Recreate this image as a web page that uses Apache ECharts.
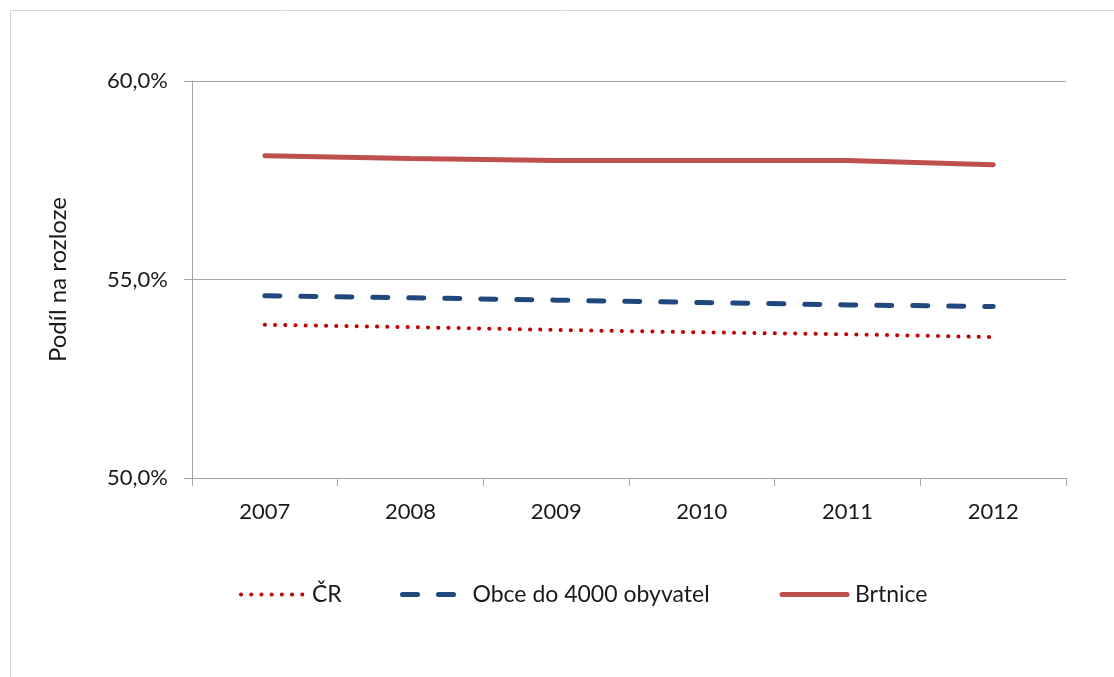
<!DOCTYPE html>
<html><head><meta charset="utf-8">
<script src="https://cdn.jsdelivr.net/npm/echarts@6/dist/echarts.min.js"></script>
<style>html,body{margin:0;padding:0;background:#fff}#c{width:1114px;height:677px}</style>
</head><body><div id="c"></div>
<script>
const categories = ['2007','2008','2009','2010','2011','2012'];
const seriesNames = ['ČR','Obce do 4000 obyvatel','Brtnice'];
const cr = [53.86, 53.80, 53.73, 53.67, 53.62, 53.55];
const obce = [54.59, 54.54, 54.48, 54.42, 54.36, 54.32];
const brtnice = [58.12, 58.05, 58.00, 58.00, 58.00, 57.89];
const yTicks = [50, 55, 60];

const FONT = 'Lato';
const C_CR = '#c00000', C_OB = '#1f497d', C_BR = '#c0504d';
const S_CR = {color:C_CR, width:4, type:[0.1,10.1], cap:'round'};
const S_OB = {color:C_OB, width:5, type:[15,21], cap:'round'};
const S_BR = {color:C_BR, width:5, type:'solid', cap:'round'};
const legText = pad => ({fontFamily:FONT, fontSize:23, color:'#1a1a1a', padding:[0,0,0,pad]});

const chart = echarts.init(document.getElementById('c'), null, {renderer:'canvas'});
chart.setOption({
  animation:false,
  backgroundColor:'#fff',
  graphic:[{type:'rect', shape:{x:10.5,y:10.5,width:1200,height:800}, style:{fill:'none', stroke:'#d9d9d9', lineWidth:1}, silent:true}],
  grid:{left:192, right:48, top:81, bottom:199, containLabel:false},
  legend:[
    {data:[seriesNames[0]], left:239, top:583, padding:0, itemWidth:62, itemHeight:14, itemStyle:{opacity:0}, lineStyle:S_CR, textStyle:legText(4)},
    {data:[seriesNames[1]], left:400, top:583, padding:0, itemWidth:51, itemHeight:14, itemStyle:{opacity:0}, lineStyle:S_OB, textStyle:legText(14)},
    {data:[seriesNames[2]], left:779.5, top:583, padding:0, itemWidth:65, itemHeight:14, itemStyle:{opacity:0}, lineStyle:S_BR, textStyle:legText(3)}
  ],
  xAxis:{type:'category', data:categories, boundaryGap:true,
    axisLine:{lineStyle:{color:'#a6a6a6', width:1}},
    axisTick:{show:true, length:8, lineStyle:{color:'#a6a6a6'}},
    axisLabel:{fontFamily:FONT, fontSize:22, color:'#1a1a1a', margin:23}},
  yAxis:{type:'value', min:50, max:60, interval:5,
    name:'Podíl na rozloze', nameLocation:'middle', nameRotate:90, nameGap:122,
    nameTextStyle:{fontFamily:FONT, fontSize:24, color:'#1a1a1a'},
    axisLine:{show:true, lineStyle:{color:'#a6a6a6', width:1}},
    axisTick:{show:true, length:8, lineStyle:{color:'#a6a6a6'}},
    splitLine:{show:true, lineStyle:{color:'#a6a6a6', width:1}},
    axisLabel:{fontFamily:FONT, fontSize:22, color:'#1a1a1a', margin:24,
      formatter:v => yTicks.includes(v) ? v.toFixed(1).replace('.',',')+'%' : ''}},
  series:[
    {name:seriesNames[0], type:'line', data:cr, symbol:'none', itemStyle:{color:C_CR}, lineStyle:S_CR},
    {name:seriesNames[1], type:'line', data:obce, symbol:'none', itemStyle:{color:C_OB}, lineStyle:S_OB},
    {name:seriesNames[2], type:'line', data:brtnice, symbol:'none', itemStyle:{color:C_BR}, lineStyle:S_BR}
  ]
});
</script></body></html>
